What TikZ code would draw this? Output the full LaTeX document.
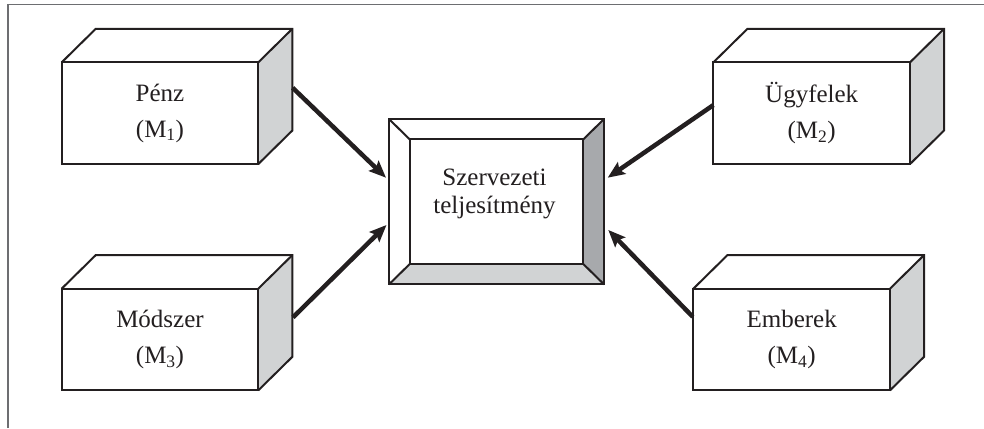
\documentclass[tikz,border=0pt]{standalone}
\usepackage{fontspec}
\setmainfont{Liberation Serif}
\usetikzlibrary{arrows.meta,calc}
\definecolor{ink}{HTML}{231F20}
\definecolor{sidegray}{HTML}{D1D3D4}
\definecolor{darkside}{HTML}{A7A9AC}
\definecolor{framegray}{HTML}{6D6E71}

% A box drawn as a front face (the node) with a top face and a shaded side face
\newcommand\drawcrate[4]{%
  \node[face] (#1) at (#2,#3) {#4};
  \fill[white] (#1.north west) -- ++(34,-33.5) -- ++(196.6,0) -- (#1.north east) -- cycle;
  \fill[sidegray] (#1.north east) -- ++(34,-33.5) -- ++(0,101.7) -- (#1.south east) -- cycle;
  \draw[edge] (#1.north west) -- ++(34,-33.5) -- ++(196.6,0) -- ++(0,101.7) -- (#1.south east);
  \draw[edge] (#1.north east) -- ++(34,-33.5);
  \draw[edge] (#1.north west) rectangle (#1.south east);
}

\begin{document}
\begin{tikzpicture}[x=1pt,y=-1pt,
  face/.style={draw=ink, line width=2pt, fill=white, outer sep=0pt, inner sep=0pt,
    minimum width=196.6pt, minimum height=101.7pt, align=center, text=ink,
    font=\fontsize{25}{36}\selectfont},
  edge/.style={draw=ink, line width=2pt, line join=miter},
  arr/.style={draw=ink, line width=4.5pt, -{Stealth[length=17pt,width=14pt,inset=3pt]}},
]
\useasboundingbox (0,0) rectangle (984,428);

% outer frame
\draw[framegray, line width=1.5pt] (8,428) -- (8,4.5) -- (984,4.5);

% four input boxes
\drawcrate{penz}{160}{113.2}{Pénz\\(M\textsubscript{1})}
\drawcrate{ugyf}{811.7}{113.2}{Ügyfelek\\(M\textsubscript{2})}
\drawcrate{modsz}{160}{339.5}{Módszer\\(M\textsubscript{3})}
\drawcrate{emb}{791.7}{339.5}{Emberek\\(M\textsubscript{4})}

% central bevelled frame
\node[draw=ink, line width=2pt, fill=white, outer sep=0pt, inner sep=0pt,
      minimum width=215pt, minimum height=165.3pt] (c) at (496.5,201.7) {};
\coordinate (ci-nw) at ($(c.north west)+(20.7,20.3)$);
\coordinate (ci-ne) at ($(c.north east)+(-20.7,20.3)$);
\coordinate (ci-sw) at ($(c.south west)+(20.7,-20.3)$);
\coordinate (ci-se) at ($(c.south east)+(-20.7,-20.3)$);
\fill[darkside] (c.north east) -- (ci-ne) -- (ci-se) -- (c.south east) -- cycle;
\fill[sidegray] (c.south west) -- (ci-sw) -- (ci-se) -- (c.south east) -- cycle;
\draw[edge] (c.north west) -- (ci-nw) (c.north east) -- (ci-ne)
            (c.south west) -- (ci-sw) (c.south east) -- (ci-se);
\draw[edge] (ci-nw) rectangle (ci-se);
\draw[edge] (c.north west) rectangle (c.south east);
\node[align=center, text=ink, font=\fontsize{25}{28}\selectfont] (ctext) at (494.5,194)
  {Szervezeti\\teljesítmény};

% arrow end points
\coordinate (penz-out) at ($(penz.north east)+(34.3,25.4)$);
\coordinate (modsz-out) at ($(modsz.north east)+(34.7,28.7)$);
\coordinate (ugyf-out) at ($(ugyf.north west)+(0,42.7)$);
\coordinate (emb-out) at ($(emb.north west)+(-0.6,28.2)$);
\coordinate (c-in1) at ($(c.west)+(-3,-24)$);
\coordinate (c-in3) at ($(c.west)+(-2.5,23.3)$);
\coordinate (c-in2) at ($(c.east)+(3.7,-24)$);
\coordinate (c-in4) at ($(c.east)+(4.3,28.3)$);

\draw[arr] (penz-out) -- (c-in1);
\draw[arr] (modsz-out) -- (c-in3);
\draw[arr] (ugyf-out) -- (c-in2);
\draw[arr] (emb-out) -- (c-in4);
\end{tikzpicture}
\end{document}
